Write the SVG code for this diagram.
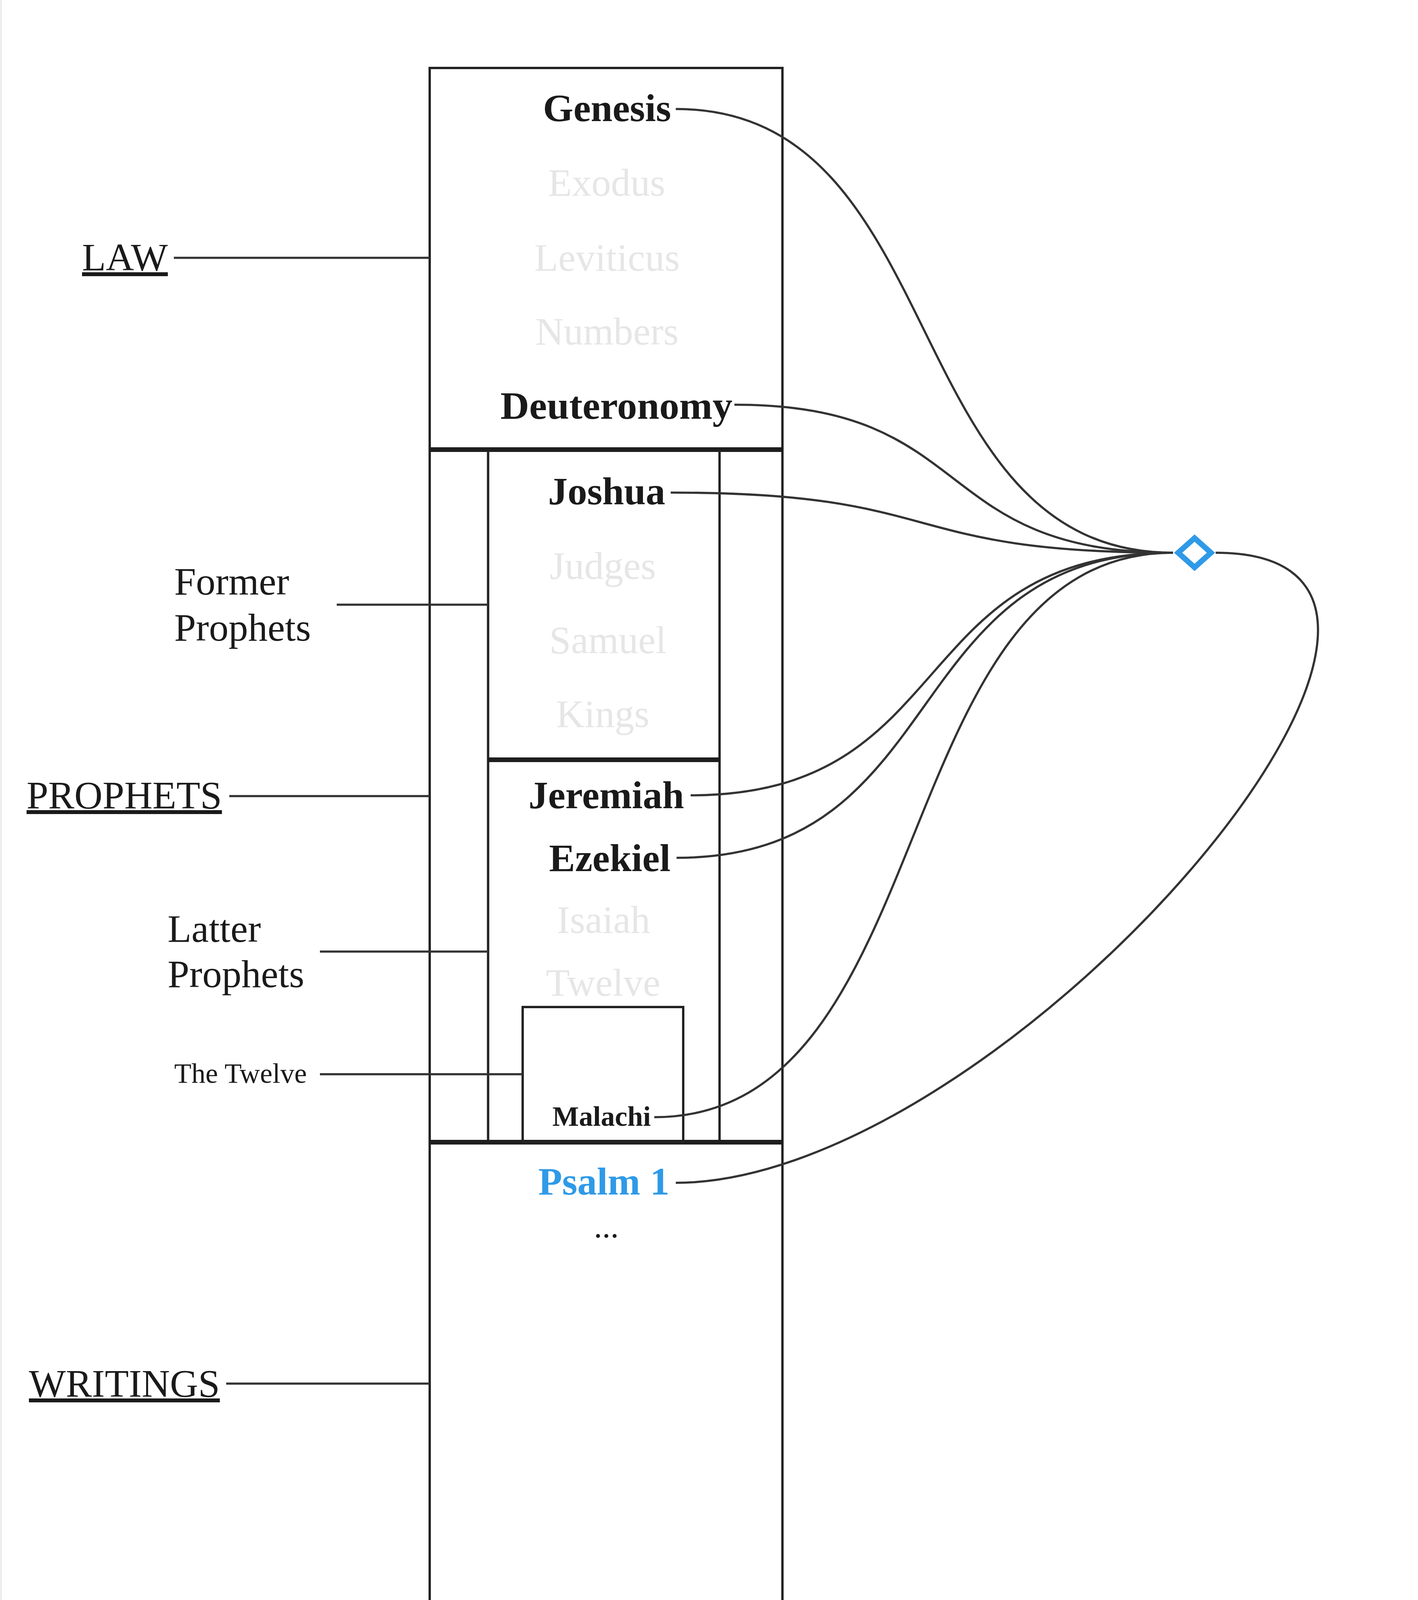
<svg xmlns="http://www.w3.org/2000/svg" width="3630" height="4406" viewBox="0 0 3630 4406">
<style>
  .frame { fill: none; stroke: #222222; stroke-width: 6; }
  .sep { fill: none; stroke: #1e1e1e; stroke-width: 12; }
  .lead { fill: none; stroke: #333333; stroke-width: 5.6; }
  .link { fill: none; stroke: #333333; stroke-width: 5.6; }
  text { font-family: "Liberation Serif", "Times New Roman", serif; }
  .book { font-size: 100px; text-anchor: middle; }
  .on { fill: #1a1a1a; font-weight: bold; }
  .off { fill: #e6e6e6; }
  .small { font-size: 72px; }
  .label { font-size: 100px; fill: #1a1a1a; }
  .label.small { font-size: 72px; }
  .group { text-decoration: underline; }
  .blue { fill: #2f9ae8; }
</style>
<rect x="0" y="0" width="3630" height="4406" fill="#ffffff"/>
<rect x="0" y="0" width="5" height="4406" fill="#ededed"/>

<g id="canon-frame">
  <rect class="frame" x="1100" y="174" width="903" height="3982"/>
</g>

<g id="law">
  <line class="sep" x1="1100" y1="1151" x2="2003" y2="1151"/>
  <text class="book on" x="1554" y="310">Genesis</text>
  <text class="book off" x="1553" y="501">Exodus</text>
  <text class="book off" x="1554" y="693">Leviticus</text>
  <text class="book off" x="1554" y="882">Numbers</text>
  <text class="on" x="1281" y="1072" font-size="100" textLength="594" lengthAdjust="spacingAndGlyphs">Deuteronomy</text>
</g>

<g id="prophets">
  <line class="frame" x1="1249.5" y1="1151" x2="1249.5" y2="2924"/>
  <line class="frame" x1="1842" y1="1151" x2="1842" y2="2924"/>
  <line class="sep" x1="1100" y1="2924" x2="2003" y2="2924"/>
</g>

<g id="former-prophets">
  <line class="sep" x1="1249.5" y1="1945" x2="1842" y2="1945"/>
  <text class="book on" x="1553" y="1291">Joshua</text>
  <text class="book off" x="1543" y="1482">Judges</text>
  <text class="book off" x="1556" y="1672">Samuel</text>
  <text class="book off" x="1543" y="1861">Kings</text>
</g>

<g id="latter-prophets">
  <text class="book on" x="1552" y="2069">Jeremiah</text>
  <text class="book on" x="1561" y="2230">Ezekiel</text>
  <text class="book off" x="1545" y="2388">Isaiah</text>
  <text class="book off" x="1544" y="2549">Twelve</text>
</g>

<g id="the-twelve">
  <rect class="frame" x="1338" y="2578" width="411" height="346"/>
  <text class="book on small" x="1540" y="2882">Malachi</text>
</g>

<g id="writings">
  <text class="book on blue" x="1546" y="3058">Psalm 1</text>
  <text x="1552" y="3168" font-size="85" text-anchor="middle" fill="#1a1a1a">...</text>
</g>

<g id="labels">
  <text class="label group" x="210" y="692">LAW</text>
  <text class="label" x="446" y="1522">Former</text>
  <text class="label" x="446" y="1640">Prophets</text>
  <text class="label group" x="68" y="2069">PROPHETS</text>
  <text class="label" x="429" y="2411">Latter</text>
  <text class="label" x="429" y="2527">Prophets</text>
  <text class="label small" x="446" y="2772">The Twelve</text>
  <text class="label group" x="74" y="3575">WRITINGS</text>
</g>

<g id="hub">
  <polygon points="3016,1415 3058,1377.5 3100,1415 3058,1452.5" fill="#ffffff" stroke="#2f9ae8" stroke-width="14"/>
</g>

<g id="connectors">
  <line class="lead" x1="445" y1="660" x2="1100" y2="660"/>
  <line class="lead" x1="862" y1="1548" x2="1249.5" y2="1548"/>
  <line class="lead" x1="587" y1="2038" x2="1100" y2="2038"/>
  <line class="lead" x1="819" y1="2436" x2="1249.5" y2="2436"/>
  <line class="lead" x1="819" y1="2750" x2="1338" y2="2750"/>
  <line class="lead" x1="579" y1="3542" x2="1100" y2="3542"/>

  <path class="link" d="M1730,279 C2443,279 2290,1415 3003,1415"/>
  <path class="link" d="M1880,1036 C2509,1036 2374,1415 3003,1415"/>
  <path class="link" d="M1717,1261 C2437,1261 2283,1415 3003,1415"/>
  <path class="link" d="M1768,2036 C2460,2036 2311,1415 3003,1415"/>
  <path class="link" d="M1732,2196 C2444,2196 2291,1415 3003,1415"/>
  <path class="link" d="M1675,2860 C2419,2860 2259,1415 3003,1415"/>
  <path class="link" d="M1730,3028 C2573,3028 3953,1415 3112,1415"/>
</g>
</svg>
